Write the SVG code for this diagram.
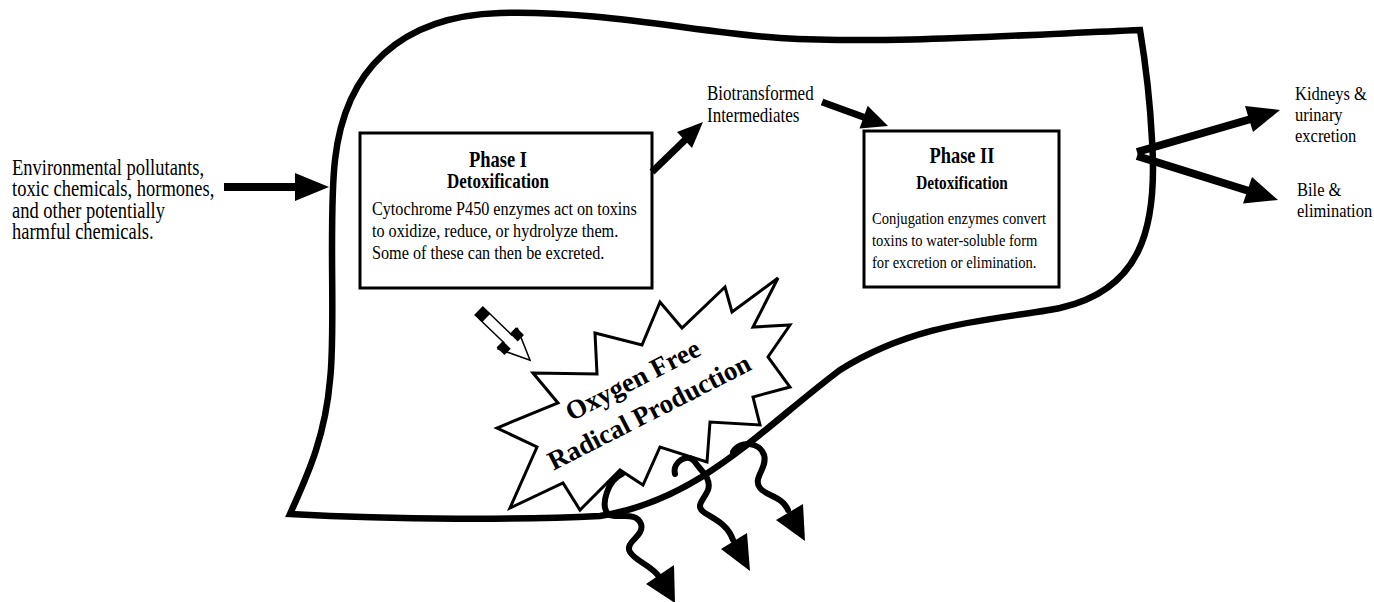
<svg xmlns="http://www.w3.org/2000/svg" width="1374" height="602" viewBox="0 0 1374 602">
<style>
.t{font-family:"Liberation Serif","Times New Roman",serif;fill:#000}
.b{font-weight:bold}
.box{fill:#fff;stroke:#000;stroke-width:3}
.shaft{stroke:#000;fill:none;stroke-linecap:butt}
.wave{stroke:#000;fill:none;stroke-width:6;stroke-linecap:round}
.head{fill:#000}
</style>
<rect width="1374" height="602" fill="#fff"/>
<g id="radical-burst">
<polygon points="533,373 597,374 595,333 642,345 660,302 682,328 725,287 732,312 778,278 753,327 790,325 768,357 790,387 753,397 760,425 710,422 707,462 660,447 643,485 620,470 580,510 563,483 510,508 537,447 497,428 558,403" fill="#fff" stroke="#000" stroke-width="3" stroke-linejoin="miter"/>
<g transform="translate(645,404) rotate(-27)">
<text class="t b" x="0" y="-18" font-size="27" text-anchor="middle">Oxygen Free</text>
<text class="t b" x="0" y="18" font-size="27" text-anchor="middle">Radical Production</text>
</g>
</g>
<g id="liver">
<path d="M1140,30 C1000,36 880,44 780,38 C700,33 600,10 500,13 C400,16 345,70 335,160 C328,220 336,330 330,380 C325,440 305,480 290,514 C400,520 520,520 600,516 C700,500 760,430 840,370 C920,320 1000,320 1060,308 C1140,290 1158,230 1152,140 C1150,100 1145,60 1140,30 Z" fill="none" stroke="#000" stroke-width="6.5" stroke-linejoin="miter"/>
</g>
<g id="input-text">
<text class="t" font-size="18.5" transform="matrix(1,0,0,1.2,0,-41.45)"><tspan x="12" y="180.375">Environmental pollutants,</tspan><tspan x="12" y="198.29">toxic chemicals, hormones,</tspan><tspan x="12" y="216.21">and other potentially</tspan><tspan x="12" y="234.125">harmful chemicals.</tspan></text>
</g>
<g id="phase1">
<rect class="box" x="360" y="133" width="292" height="155"/>
<text class="t b" x="498" y="167" font-size="18.5" text-anchor="middle" transform="matrix(1,0,0,1.2,0,-33.4)">Phase I</text>
<text class="t b" x="498" y="188" font-size="17" text-anchor="middle" transform="matrix(1,0,0,1.2,0,-37.6)">Detoxification</text>
<text class="t" font-size="16.2" transform="matrix(1,0,0,1.2,0,-47.4)"><tspan x="372" y="218.67">Cytochrome P450 enzymes act on toxins</tspan><tspan x="372" y="237">to oxidize, reduce, or hydrolyze them.</tspan><tspan x="372" y="255.33">Some of these can then be excreted.</tspan></text>
</g>
<g id="intermediates">
<text class="t" font-size="17" transform="matrix(1,0,0,1.2,0,-22.2)"><tspan x="707" y="101.83">Biotransformed</tspan><tspan x="707" y="120.17">Intermediates</tspan></text>
</g>
<g id="phase2">
<rect class="box" x="864" y="131" width="195" height="156"/>
<text class="t b" x="962" y="163" font-size="18.4" text-anchor="middle" transform="matrix(1,0,0,1.2,0,-32.6)">Phase II</text>
<text class="t b" x="962" y="189" font-size="15.3" text-anchor="middle" transform="matrix(1,0,0,1.2,0,-37.8)">Detoxification</text>
<text class="t" font-size="14.6" transform="matrix(1,0,0,1.2,0,-49.2)"><tspan x="872" y="227.67">Conjugation enzymes convert</tspan><tspan x="872" y="246">toxins to water-soluble form</tspan><tspan x="872" y="264.33">for excretion or elimination.</tspan></text>
</g>
<g id="kidneys">
<text class="t" font-size="16.5" transform="matrix(1,0,0,1.2,0,-24.2)"><tspan x="1295" y="103.5">Kidneys &amp;</tspan><tspan x="1295" y="121">urinary</tspan><tspan x="1295" y="138.5">excretion</tspan></text>
</g>
<g id="bile">
<text class="t" font-size="16.5" transform="matrix(1,0,0,1.2,0,-41.3)"><tspan x="1297" y="197.75">Bile &amp;</tspan><tspan x="1297" y="215.25">elimination</tspan></text>
</g>
<g id="connectors">
<line class="shaft" x1="224" y1="187" x2="297" y2="187" stroke-width="8"/>
<polygon class="head" points="295,173 329,187 295,201"/>
<line class="shaft" x1="652" y1="172" x2="686" y2="139" stroke-width="7"/>
<polygon class="head" points="692,148 703,122 677,132"/>
<line class="shaft" x1="822" y1="102" x2="866" y2="118" stroke-width="7"/>
<polygon class="head" points="859.5,128.4 888,126 867.7,105.8"/>
<line class="shaft" x1="1137" y1="152" x2="1251" y2="119" stroke-width="8"/>
<polygon class="head" points="1253,132 1280,110 1245,106"/>
<line class="shaft" x1="1137" y1="156" x2="1249" y2="191" stroke-width="8"/>
<polygon class="head" points="1243,203.6 1278,200 1252,177"/>
<g transform="translate(479,311) rotate(44)">
<polygon points="0,-5.5 40,-5.5 40,-14 71,0 40,14 40,5.5 0,5.5" fill="#fff" stroke="#000" stroke-width="1.5" stroke-linejoin="miter"/>
<rect x="0" y="-5.5" width="10" height="11" fill="#000"/>
<rect x="38" y="-14" width="11" height="9" fill="#000"/>
<rect x="38" y="5" width="11" height="9" fill="#000"/>
</g>
<path class="wave" d="M622,474 C608,480 600,505 608,514 C616,520 636,510 641,524 C645,536 624,542 630,552 C636,562 652,565 660,578"/>
<polygon class="head" points="646,584 674,565 675,603"/>
<path class="wave" d="M675,474 C672,462 688,452 695,462 C700,470 712,478 708,490 C704,500 694,506 705,513 C716,520 728,525 733,540"/>
<polygon class="head" points="721,549 747,533 750,571"/>
<path class="wave" d="M733,452 C740,440 760,442 764,455 C768,468 752,478 760,488 C766,496 782,496 788,510"/>
<polygon class="head" points="776,520 803,504 805,541"/>
</g>
</svg>
